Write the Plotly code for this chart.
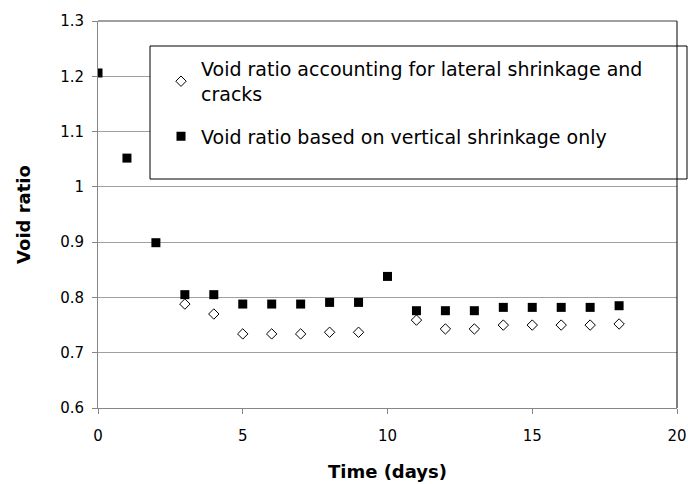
import plotly.graph_objects as go

# Data
days_sq = [0, 1, 2, 3, 4, 5, 6, 7, 8, 9, 10, 11, 12, 13, 14, 15, 16, 17, 18]
void_vertical = [1.206, 1.052, 0.899, 0.805, 0.805, 0.788, 0.788, 0.788, 0.791, 0.791,
                 0.838, 0.776, 0.776, 0.776, 0.782, 0.782, 0.782, 0.782, 0.785]
days_dia = [3, 4, 5, 6, 7, 8, 9, 11, 12, 13, 14, 15, 16, 17, 18]
void_lateral = [0.788, 0.770, 0.734, 0.734, 0.734, 0.737, 0.737, 0.759, 0.743, 0.743,
                0.750, 0.750, 0.750, 0.750, 0.752]
y_ticks = [0.6, 0.7, 0.8, 0.9, 1.0, 1.1, 1.2, 1.3]
y_ticktext = ["0.6", "0.7", "0.8", "0.9", "1", "1.1", "1.2", "1.3"]
x_ticks = [0, 5, 10, 15, 20]

FONT = "DejaVu Sans"
W, H = 688, 484
ML, MR, MT, MB = 98, 11, 21, 76
PW, PH = W - ML - MR, H - MT - MB

fig = go.Figure()
fig.add_trace(go.Scatter(
    x=days_dia, y=void_lateral, mode="markers", legendgroup="a",
    name="Void ratio accounting for lateral shrinkage and<br>cracks",
    marker=dict(symbol="diamond-open", size=8, color="black", line=dict(width=1, color="black")),
))
fig.add_trace(go.Scatter(
    x=days_sq, y=void_vertical, mode="markers", legendgroup="b",
    name="Void ratio based on vertical shrinkage only",
    marker=dict(symbol="square", size=9, color="black"),
))

# legend box
fig.add_shape(type="rect", xref="paper", yref="paper",
              x0=(150 - ML) / PW, x1=(687 - ML) / PW,
              y0=(H - MB - 179) / PH, y1=(H - MB - 46) / PH,
              line=dict(color="black", width=1), fillcolor="white", layer="above")
# top and right plot border
fig.add_shape(type="line", xref="paper", yref="paper", x0=0, x1=1, y0=1, y1=1,
              line=dict(color="#404040", width=1))
fig.add_shape(type="line", xref="paper", yref="paper", x0=1, x1=1, y0=0, y1=1,
              line=dict(color="black", width=1))

fig.update_layout(
    width=W, height=H,
    margin=dict(l=ML, r=MR, t=MT, b=MB, autoexpand=False),
    paper_bgcolor="white", plot_bgcolor="white",
    font=dict(family=FONT, size=15, color="black"),
    showlegend=True,
    legend=dict(x=(161 - ML) / PW, y=(H - MB - 50) / PH, xanchor="left", yanchor="top",
                bgcolor="rgba(0,0,0,0)", borderwidth=0,
                font=dict(family=FONT, size=19, color="black"),
                tracegroupgap=15, itemsizing="trace"),
    xaxis=dict(range=[0, 20], tickvals=x_ticks, showgrid=False, zeroline=False,
               showline=True, linecolor="#868686", linewidth=1, automargin=False,
               ticks="outside", ticklen=5, tickcolor="#868686", ticklabelstandoff=9,
               title=dict(text="<b>Time (days)</b>", font=dict(size=18), standoff=21)),
    yaxis=dict(range=[0.6, 1.3], tickvals=y_ticks, ticktext=y_ticktext,
               showgrid=True, gridcolor="#a0a0a0", gridwidth=1, zeroline=False,
               showline=True, linecolor="#868686", linewidth=1, automargin=False,
               ticks="outside", ticklen=5, tickcolor="#868686", ticklabelstandoff=5,
               title=dict(text="<b>Void ratio</b>", font=dict(size=18), standoff=24)),
)

fig.write_html("out.html")
